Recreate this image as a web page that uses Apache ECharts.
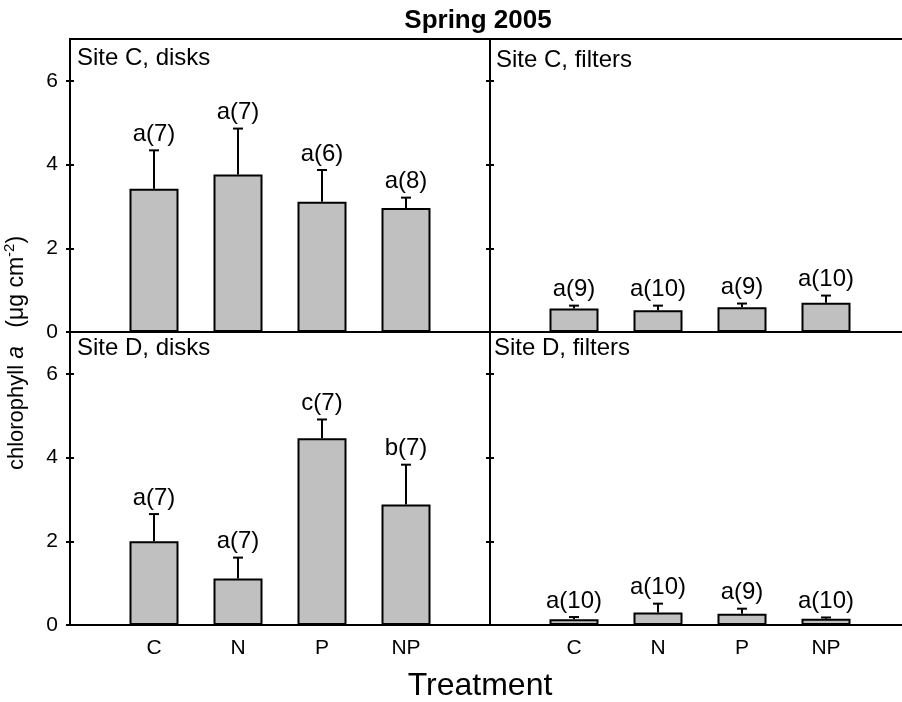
<!DOCTYPE html>
<html>
<head>
<meta charset="utf-8">
<script src="https://cdn.jsdelivr.net/npm/echarts@6/dist/echarts.min.js"></script>
<style>
  html, body { margin: 0; padding: 0; background: #fff; }
  #chart { width: 902px; height: 702px; }
</style>
</head>
<body>
<div id="chart"></div>
<script>
// Treatments and y-axis tick values
const categories = ['C', 'N', 'P', 'NP'];
const yTicks = [0, 2, 4, 6];
const panelNames = ['Site C, disks', 'Site C, filters', 'Site D, disks', 'Site D, filters'];

// Mean chlorophyll a (µg cm-2), standard error, and group letter (n)
const siteCDisksMean = [3.42, 3.76, 3.11, 2.96];
const siteCDisksSE = [0.92, 1.10, 0.76, 0.25];
const siteCDisksGroups = ['a(7)', 'a(7)', 'a(6)', 'a(8)'];

const siteCFiltersMean = [0.56, 0.52, 0.59, 0.70];
const siteCFiltersSE = [0.07, 0.11, 0.09, 0.17];
const siteCFiltersGroups = ['a(9)', 'a(10)', 'a(9)', 'a(10)'];

const siteDDisksMean = [2.00, 1.11, 4.46, 2.88];
const siteDDisksSE = [0.65, 0.50, 0.45, 0.95];
const siteDDisksGroups = ['a(7)', 'a(7)', 'c(7)', 'b(7)'];

const siteDFiltersMean = [0.14, 0.30, 0.27, 0.15];
const siteDFiltersSE = [0.05, 0.21, 0.12, 0.03];
const siteDFiltersGroups = ['a(10)', 'a(10)', 'a(9)', 'a(10)'];

const FONT = '"Liberation Sans", Arial, Helvetica, sans-serif';

// Panel layout: 2 x 2 with shared borders
const panels = [
  { name: panelNames[0], mean: siteCDisksMean, se: siteCDisksSE, groups: siteCDisksGroups,
    left: 70, top: 39, yLabels: true, xLabels: false, nameX: 77, nameY: 58 },
  { name: panelNames[1], mean: siteCFiltersMean, se: siteCFiltersSE, groups: siteCFiltersGroups,
    left: 490, top: 39, yLabels: false, xLabels: false, nameX: 496, nameY: 60 },
  { name: panelNames[2], mean: siteDDisksMean, se: siteDDisksSE, groups: siteDDisksGroups,
    left: 70, top: 332, yLabels: true, xLabels: true, nameX: 77, nameY: 348 },
  { name: panelNames[3], mean: siteDFiltersMean, se: siteDFiltersSE, groups: siteDFiltersGroups,
    left: 490, top: 332, yLabels: false, xLabels: true, nameX: 494, nameY: 348 }
];

const PANEL_W = 420, PANEL_H = 293;
const axisCats = [''].concat(categories, ['']);

const grid = panels.map(p => ({
  left: p.left, top: p.top, width: PANEL_W, height: PANEL_H,
  outerBoundsMode: 'none', containLabel: false,
  show: true, borderColor: '#000', borderWidth: 2, backgroundColor: 'transparent'
}));

const xAxis = panels.map((p, i) => ({
  gridIndex: i, type: 'category', data: axisCats, boundaryGap: false,
  axisLine: { show: false }, axisTick: { show: false }, splitLine: { show: false },
  axisLabel: { show: p.xLabels, interval: 0, margin: 13, color: '#000', fontSize: 21, fontFamily: FONT }
}));

const yAxis = [];
panels.forEach((p, i) => {
  const base = {
    gridIndex: i, type: 'value', min: 0, max: 7, position: 'left', offset: 0,
    axisLine: { show: false }, splitLine: { show: false }
  };
  // outward ticks + labels
  yAxis.push(Object.assign({}, base, {
    axisTick: { show: true, inside: false, length: 4, customValues: yTicks, lineStyle: { color: '#000', width: 2 } },
    axisLabel: { show: p.yLabels, customValues: yTicks, margin: 12, color: '#000', fontSize: 21, fontFamily: FONT,
      formatter: v => (yTicks.indexOf(v) >= 0 ? String(v) : '') }
  }));
  // inward ticks
  yAxis.push(Object.assign({}, base, {
    axisTick: { show: true, inside: true, length: 4, customValues: yTicks, lineStyle: { color: '#000', width: 2 } },
    axisLabel: { show: false }
  }));
});

const series = [];
panels.forEach((p, i) => {
  series.push({
    type: 'bar', xAxisIndex: i, yAxisIndex: 2 * i,
    data: ['-'].concat(p.mean, ['-']),
    barWidth: 49,
    itemStyle: { color: '#c0c0c0', borderColor: '#000', borderWidth: 2 },
    silent: true
  });
  series.push({
    type: 'custom', xAxisIndex: i, yAxisIndex: 2 * i, z: 5, silent: true,
    data: p.mean.map((m, k) => [k + 1, m, m + p.se[k]]),
    renderItem: (params, api) => {
      const x = api.value(0);
      const base = api.coord([x, api.value(1)]);
      const top = api.coord([x, api.value(2)]);
      return {
        type: 'group',
        children: [
          { type: 'line', shape: { x1: top[0], y1: base[1], x2: top[0], y2: top[1] },
            style: { stroke: '#000', lineWidth: 2 } },
          { type: 'line', shape: { x1: top[0] - 5, y1: top[1], x2: top[0] + 5, y2: top[1] },
            style: { stroke: '#000', lineWidth: 2 } },
          { type: 'text', x: top[0], y: top[1] - 4,
            style: { text: p.groups[params.dataIndex], fill: '#000', font: '24px ' + FONT,
              align: 'center', verticalAlign: 'bottom' } }
        ]
      };
    }
  });
});

const graphic = [
  { type: 'text', x: 478, y: 21,
    style: { text: 'Spring 2005', fill: '#000', font: 'bold 26px ' + FONT, align: 'center', verticalAlign: 'middle' } },
  { type: 'text', x: 480, y: 686,
    style: { text: 'Treatment', fill: '#000', font: '32px ' + FONT, align: 'center', verticalAlign: 'middle' } },
  { type: 'text', x: 17, y: 353, rotation: Math.PI / 2,
    style: {
      text: '{n|chlorophyll }{i|a}{n|   }{m|(μg cm}{s|-2}{m|)}',
      align: 'center', verticalAlign: 'middle', fill: '#000',
      rich: {
        n: { fontSize: 22, fontFamily: FONT, lineHeight: 30, fill: '#000' },
        i: { fontSize: 23, fontFamily: FONT, fontStyle: 'italic', lineHeight: 30, fill: '#000' },
        m: { fontSize: 23, fontFamily: FONT, lineHeight: 30, fill: '#000' },
        s: { fontSize: 15, fontFamily: FONT, verticalAlign: 'top', lineHeight: 15, fill: '#000' }
      }
    } }
].concat(panels.map(p => ({
  type: 'text', x: p.nameX, y: p.nameY,
  style: { text: p.name, fill: '#000', font: '24px ' + FONT, align: 'left', verticalAlign: 'middle' }
})));

const chart = echarts.init(document.getElementById('chart'), null, { renderer: 'canvas' });
chart.setOption({
  animation: false,
  backgroundColor: '#fff',
  grid, xAxis, yAxis, series, graphic
});
</script>
</body>
</html>
